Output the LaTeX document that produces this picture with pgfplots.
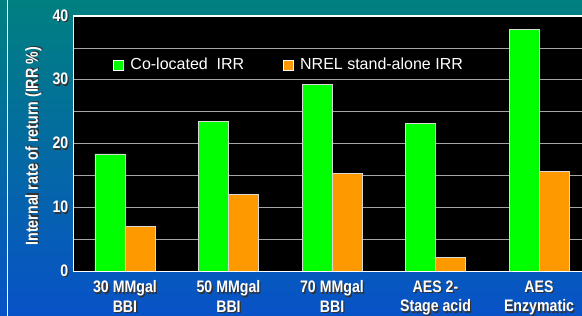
\documentclass[border=0pt]{standalone}
\usepackage{fontspec}
\setmainfont{Liberation Sans}
\newfontfamily\narrowbf[FakeStretch=0.85]{Liberation Sans Bold}
\newfontfamily\narrowbfb[FakeStretch=0.82]{Liberation Sans Bold}
\usepackage{pgfplots}
\pgfplotsset{compat=1.18}
\definecolor{bgtop}{RGB}{0,128,128}
\definecolor{bgbot}{RGB}{8,82,200}
\definecolor{bargreen}{RGB}{0,255,0}
\definecolor{barorange}{RGB}{255,153,0}
\newcommand\sh[1]{\makebox[0pt][l]{\hspace{1pt}\raisebox{-1pt}{\color{black!80}#1}}#1}
\begin{document}
\begin{tikzpicture}
\useasboundingbox (0,0) rectangle (436.5pt,237pt);
\shade[top color=bgtop, bottom color=bgbot] (0,0) rectangle (436.5pt,237pt);
\draw[white, line width=0.6pt] (5.6pt,0) -- (5.6pt,237pt);
\begin{axis}[
  at={(54.75pt,33.375pt)}, anchor=south west,
  scale only axis, width=381.75pt, height=191.625pt,
  axis background/.style={fill=black},
  axis line style={draw=none},
  ybar=0pt, bar width=22.5pt,
  xmin=-0.502, xmax=4.415, ymin=0, ymax=40,
  xtick={0,1,2,3,4},
  xticklabels={{\sh{30 MMgal}\\\sh{BBI}},{\sh{50 MMgal}\\\sh{BBI}},{\sh{70 MMgal}\\\sh{BBI}},{\sh{AES 2-}\\\sh{Stage acid}},{\sh{AES}\\\sh{Enzymatic}}},
  xticklabel style={align=center, text=white, font=\narrowbf\fontsize{12.5}{14.5}\selectfont, yshift=-3.5pt},
  ytick={0,10,20,30,40},
  yticklabels={\sh{0},\sh{10},\sh{20},\sh{30},\sh{40}},
  minor ytick={5,15,25,35},
  yticklabel style={text=white, font=\narrowbf\fontsize{12.5}{14}\selectfont},
  major tick length=0pt, minor tick length=0pt,
  ymajorgrids, yminorgrids,
  major grid style={gray!70, line width=0.6pt},
  minor grid style={gray!70, line width=0.6pt},
  ylabel={\sh{Internal rate of return (IRR \%)}},
  ylabel style={at={(rel axis cs:-0.0766,0.49)}, anchor=center, text=white, font=\narrowbfb\fontsize{13}{15}\selectfont},
  legend columns=2,
  legend style={draw=none, fill=none, inner sep=0pt, at={(rel axis cs:0.0786,0.808)}, anchor=west,
    text=white, font=\fontsize{12}{14}\selectfont, nodes={inner sep=0pt},
    /tikz/every odd column/.append style={column sep=5pt},
    /tikz/every even column/.append style={column sep=29pt}},
  legend image code/.code={\draw[#1, draw=white, line width=0.4pt] (0pt,-3.75pt) rectangle (7.5pt,3.75pt);},
]
\addplot[fill=bargreen, draw=white!85!black, line width=0.6pt] coordinates {(0,18.4) (1,23.5) (2,29.3) (3,23.2) (4,37.9)};
\addplot[fill=barorange, draw=white!85!black, line width=0.6pt] coordinates {(0,7.0) (1,12.1) (2,15.4) (3,2.2) (4,15.6)};
\legend{Co-located~ IRR, NREL stand-alone IRR}
\draw[white, line width=0.8pt] (rel axis cs:0,0) -- (rel axis cs:1,0);
\draw[white, line width=0.8pt] (rel axis cs:0,0) -- (rel axis cs:0,1) -- (rel axis cs:1,1);
\end{axis}
\end{tikzpicture}
\end{document}
